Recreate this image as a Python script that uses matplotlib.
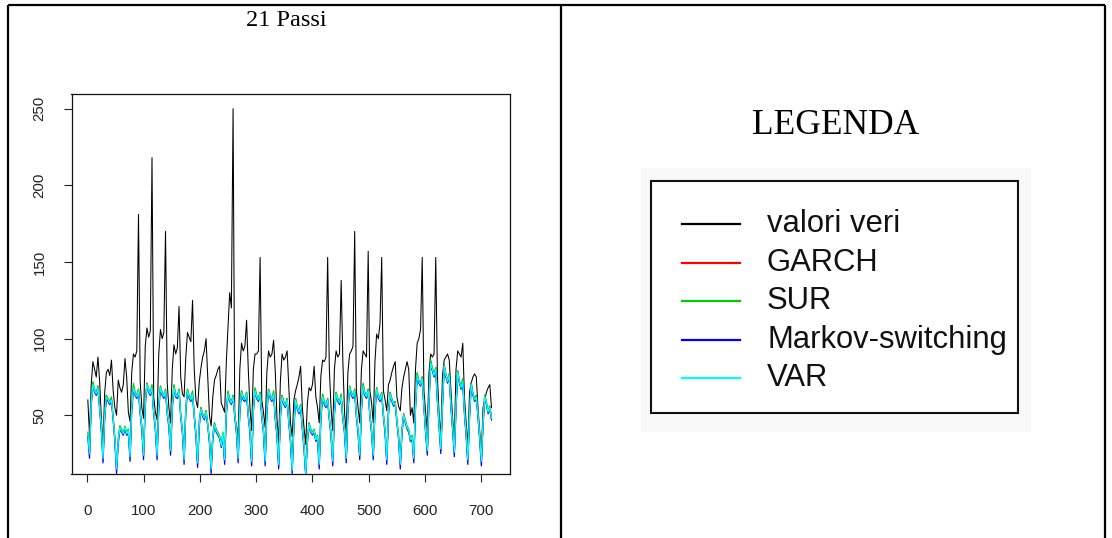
import numpy as np
import matplotlib
matplotlib.use("Agg")
import matplotlib.pyplot as plt
from matplotlib.lines import Line2D
from matplotlib.patches import Rectangle

W, H = 1112, 538

# 30 days of hourly data, one reading every 3 hours (8 per day)
hours = np.arange(1, 721, 3)

valori_veri = [
    60, 37, 70, 85, 80, 75, 88, 72,
    48, 32, 65, 78, 80, 76, 86, 66,
    55, 50, 73, 68, 65, 70, 87, 75,
    52, 46, 78, 90, 88, 92, 181, 72,
    55, 48, 95, 107, 101, 105, 218, 62,
    52, 47, 90, 106, 100, 104, 170, 71,
    55, 45, 80, 96, 90, 94, 121, 75,
    64, 62, 88, 104, 101, 98, 125, 80,
    60, 55, 72, 81, 88, 92, 100, 75,
    50, 43, 62, 73, 76, 80, 82, 58,
    55, 52, 85, 108, 130, 120, 250, 48,
    44, 34, 80, 97, 92, 95, 112, 80,
    55, 40, 80, 90, 90, 92, 153, 60,
    52, 42, 78, 92, 88, 90, 99, 78,
    48, 32, 72, 90, 86, 88, 92, 68,
    45, 36, 60, 66, 70, 75, 82, 55,
    42, 31, 58, 68, 66, 70, 82, 62,
    55, 45, 76, 86, 85, 88, 153, 80,
    55, 40, 80, 92, 88, 90, 138, 85,
    52, 38, 78, 90, 92, 95, 170, 66,
    55, 45, 80, 92, 90, 88, 157, 66,
    58, 45, 85, 103, 100, 110, 153, 66,
    60, 53, 70, 73, 78, 82, 85, 62,
    56, 53, 68, 75, 80, 85, 80, 50,
    55, 45, 80, 97, 100, 106, 153, 66,
    52, 40, 78, 90, 88, 90, 153, 75,
    50, 36, 76, 86, 88, 90, 86, 66,
    48, 34, 80, 92, 90, 88, 97, 62,
    45, 30, 65, 71, 75, 77, 75, 55,
    40, 25, 55, 60, 65, 68, 70, 55,
]

garch = [
    38, 25, 59, 71, 66, 64, 69, 55,
    42, 22, 51, 63, 60, 58, 61, 48,
    35, 15, 34, 43, 40, 38, 42, 38,
    40, 23, 56, 69, 64, 62, 67, 52,
    42, 24, 59, 71, 66, 64, 69, 52,
    42, 24, 57, 69, 64, 62, 67, 52,
    44, 27, 57, 69, 63, 62, 67, 50,
    40, 21, 55, 67, 62, 60, 65, 50,
    38, 19, 46, 55, 50, 48, 53, 44,
    34, 15, 37, 45, 40, 38, 36, 30,
    38, 21, 53, 65, 60, 58, 63, 50,
    40, 22, 55, 66, 61, 60, 65, 50,
    40, 20, 55, 67, 62, 60, 65, 50,
    40, 20, 55, 67, 62, 60, 65, 48,
    38, 18, 51, 63, 58, 56, 61, 46,
    34, 14, 45, 61, 55, 52, 57, 42,
    30, 12, 35, 45, 40, 38, 40, 34,
    36, 18, 51, 63, 58, 56, 61, 48,
    38, 20, 53, 65, 60, 58, 63, 48,
    40, 22, 55, 69, 64, 62, 67, 50,
    40, 24, 56, 70, 64, 62, 67, 50,
    40, 24, 55, 68, 62, 60, 65, 50,
    40, 21, 53, 65, 60, 57, 59, 46,
    36, 18, 41, 51, 46, 42, 40, 34,
    36, 22, 57, 77, 72, 70, 75, 56,
    40, 27, 61, 85, 80, 76, 81, 60,
    44, 28, 59, 83, 76, 72, 77, 56,
    42, 26, 57, 79, 72, 68, 73, 52,
    38, 21, 51, 71, 64, 60, 63, 50,
    36, 20, 46, 63, 58, 52, 56, 48,
]

sur = [
    39, 26, 59, 72, 67, 65, 69, 56,
    43, 23, 51, 63, 61, 59, 62, 49,
    36, 16, 34, 43, 41, 39, 43, 39,
    41, 24, 56, 71, 65, 63, 67, 53,
    43, 25, 59, 71, 67, 65, 70, 53,
    43, 25, 57, 69, 65, 63, 67, 53,
    45, 28, 57, 70, 64, 63, 67, 51,
    41, 22, 55, 67, 63, 61, 66, 51,
    39, 20, 46, 55, 51, 49, 53, 45,
    35, 16, 37, 45, 41, 39, 37, 31,
    39, 22, 53, 66, 61, 59, 63, 51,
    41, 23, 55, 66, 62, 61, 65, 51,
    41, 21, 55, 68, 63, 61, 65, 51,
    41, 21, 55, 67, 63, 61, 66, 49,
    39, 19, 51, 63, 59, 57, 61, 47,
    35, 15, 45, 61, 56, 53, 57, 43,
    31, 13, 35, 45, 41, 39, 41, 35,
    37, 19, 51, 64, 59, 57, 61, 49,
    39, 21, 53, 65, 61, 59, 64, 49,
    41, 23, 55, 69, 65, 63, 67, 51,
    41, 25, 56, 71, 65, 63, 67, 51,
    41, 25, 55, 68, 63, 61, 65, 51,
    41, 22, 53, 65, 61, 58, 59, 47,
    37, 19, 41, 51, 47, 43, 41, 35,
    37, 23, 57, 78, 73, 71, 75, 57,
    41, 28, 61, 86, 81, 77, 81, 61,
    45, 29, 59, 83, 77, 73, 77, 57,
    43, 27, 57, 79, 73, 69, 74, 53,
    39, 22, 51, 71, 65, 61, 63, 51,
    37, 21, 46, 63, 59, 53, 56, 49,
]

markov_switching = [
    36, 22, 56, 69, 65, 63, 67, 54,
    40, 19, 48, 61, 59, 57, 59, 47,
    33, 12, 31, 41, 39, 37, 41, 37,
    38, 20, 53, 67, 63, 61, 65, 51,
    40, 21, 56, 69, 65, 63, 67, 51,
    40, 21, 54, 67, 63, 61, 65, 51,
    42, 24, 54, 67, 62, 61, 65, 49,
    38, 18, 52, 65, 61, 59, 63, 49,
    36, 16, 43, 53, 49, 47, 51, 43,
    32, 12, 34, 43, 39, 37, 35, 29,
    36, 18, 50, 63, 59, 57, 61, 49,
    38, 19, 52, 64, 60, 59, 63, 49,
    38, 17, 52, 65, 61, 59, 63, 49,
    38, 17, 52, 65, 61, 59, 63, 47,
    36, 15, 48, 61, 57, 55, 59, 45,
    32, 12, 42, 59, 54, 51, 55, 41,
    28, 11, 32, 43, 39, 37, 39, 33,
    34, 15, 48, 61, 57, 55, 59, 47,
    36, 17, 50, 63, 59, 57, 61, 47,
    38, 19, 52, 67, 63, 61, 65, 49,
    38, 21, 53, 68, 63, 61, 65, 49,
    38, 21, 52, 66, 61, 59, 63, 49,
    38, 18, 50, 63, 59, 56, 57, 45,
    34, 15, 38, 49, 45, 41, 39, 33,
    34, 19, 54, 75, 71, 69, 73, 55,
    38, 24, 58, 83, 79, 75, 79, 59,
    42, 25, 56, 81, 75, 71, 75, 55,
    40, 23, 54, 77, 71, 67, 71, 51,
    36, 18, 48, 69, 63, 59, 61, 49,
    34, 17, 43, 61, 57, 51, 54, 47,
]

var = [
    38, 25, 58, 70, 66, 64, 68, 55,
    42, 22, 50, 62, 60, 58, 60, 48,
    35, 15, 33, 42, 40, 38, 42, 38,
    40, 23, 55, 68, 64, 62, 66, 52,
    42, 24, 58, 70, 66, 64, 68, 52,
    42, 24, 56, 68, 64, 62, 66, 52,
    44, 27, 56, 68, 63, 62, 66, 50,
    40, 21, 54, 66, 62, 60, 64, 50,
    38, 19, 45, 54, 50, 48, 52, 44,
    34, 15, 36, 44, 40, 38, 36, 30,
    38, 21, 52, 64, 60, 58, 62, 50,
    40, 22, 54, 65, 61, 60, 64, 50,
    40, 20, 54, 66, 62, 60, 64, 50,
    40, 20, 54, 66, 62, 60, 64, 48,
    38, 18, 50, 62, 58, 56, 60, 46,
    34, 14, 44, 60, 55, 52, 56, 42,
    30, 12, 34, 44, 40, 38, 40, 34,
    36, 18, 50, 62, 58, 56, 60, 48,
    38, 20, 52, 64, 60, 58, 62, 48,
    40, 22, 54, 68, 64, 62, 66, 50,
    40, 24, 55, 69, 64, 62, 66, 50,
    40, 24, 54, 67, 62, 60, 64, 50,
    40, 21, 52, 64, 60, 57, 58, 46,
    36, 18, 40, 50, 46, 42, 40, 34,
    36, 22, 56, 76, 72, 70, 74, 56,
    40, 27, 60, 84, 80, 76, 80, 60,
    44, 28, 58, 82, 76, 72, 76, 56,
    42, 26, 56, 78, 72, 68, 72, 52,
    38, 21, 50, 70, 64, 60, 62, 50,
    36, 20, 45, 62, 58, 52, 55, 48,
]

series_labels = ["valori veri", "GARCH", "SUR", "Markov-switching", "VAR"]
series_values = [valori_veri, garch, sur, markov_switching, var]
series_colors = ["#000000", "#ff0000", "#00cd00", "#0000ff", "#00ffff"]
series_widths = [0.75, 0.9, 0.9, 0.9, 0.95]

x_ticks = [0, 100, 200, 300, 400, 500, 600, 700]
y_ticks = [50, 100, 150, 200, 250]

fig = plt.figure(figsize=(W / 100, H / 100), dpi=100)

# page layer in pixel coordinates: table rules, titles, legend
page = fig.add_axes([0, 0, 1, 1])
page.set_xlim(0, W)
page.set_ylim(H, 0)
page.axis("off")

rule = dict(color="black", lw=1.6, solid_capstyle="butt")
page.plot([8, 1105], [5, 5], **rule)
page.plot([8, 8], [5, H], **rule)
page.plot([561, 561], [5, H], **rule)
page.plot([1105, 1105], [5, H], **rule)

page.text(286, 21, "21 Passi", family="Liberation Serif", fontsize=17.5,
          ha="center", va="center", color="black")
page.text(836, 125, "LEGENDA", family="Liberation Serif", fontsize=25.5,
          ha="center", va="center", color="black")

# legend panel
page.add_patch(Rectangle((641, 168), 390, 264, facecolor="#f9f9f9",
                         edgecolor="none", zorder=1))
page.add_patch(Rectangle((651, 181), 367, 232, facecolor="white",
                         edgecolor="#111111", lw=1.5, zorder=2))
row_y = [224, 263, 301, 340, 378]
for yy, lab, col in zip(row_y, series_labels, series_colors):
    page.add_line(Line2D([682, 740], [yy, yy], color=col, lw=1.6, zorder=3))
    page.text(767, yy, lab, family="Liberation Sans", fontsize=22.3,
              ha="left", va="center", color="#111111", zorder=3)

# time-series panel
ax = fig.add_axes([71.5 / W, 1 - 474 / H, (509.5 - 71.5) / W, (474 - 94) / H])
for vals, col, lw in zip(series_values, series_colors, series_widths):
    ax.plot(hours, vals, color=col, lw=lw)

ax.set_xlim(-28, 750)
ax.set_ylim(11.7, 259.6)
ax.set_xticks(x_ticks)
ax.set_yticks(y_ticks)
ax.set_xticklabels([str(t) for t in x_ticks], family="Liberation Sans",
                   fontsize=10.8, color="#222222")
ax.set_yticklabels([str(t) for t in y_ticks], family="Liberation Sans",
                   fontsize=10.8, color="#222222", rotation=90, va="center")
ax.tick_params(axis="x", direction="out", length=6, width=0.8, pad=15.5,
               color="#222222")
ax.tick_params(axis="y", direction="out", length=6, width=0.8, pad=12,
               color="#222222")
for sp in ax.spines.values():
    sp.set_linewidth(0.9)
    sp.set_color("#111111")

fig.savefig("out.png", dpi=100)
